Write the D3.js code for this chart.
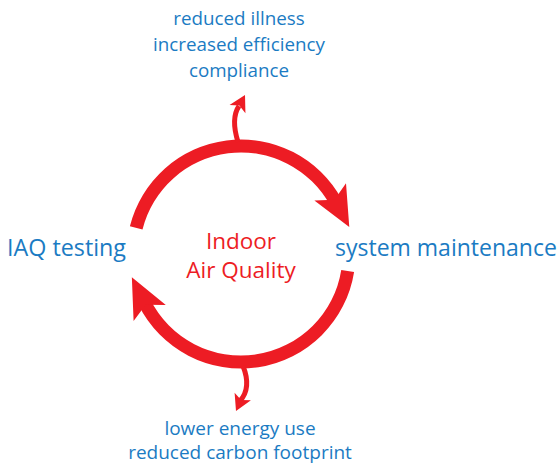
<!DOCTYPE html>
<html>
<head>
<meta charset="utf-8">
<script src="https://cdn.jsdelivr.net/npm/d3@7"></script>
<style>
  body { margin: 0; background: #fff; }
  text { font-family: "Open Sans", sans-serif; }
</style>
</head>
<body>
<div class="chart"></div>
<script>
const w = 560;
const h = 466;

// content
const centerLabel = ["Indoor", "Air Quality"];
const stages = ["IAQ testing", "system maintenance"];
const topBenefits = ["reduced illness", "increased efficiency", "compliance"];
const bottomBenefits = ["lower energy use", "reduced carbon footprint"];

const red = "#ed1c24";
const blue = "#1b7bc3";

const cx = 241, cy = 254, r = 108, band = 13;
const deg = Math.PI / 180;

const svg = d3.select(".chart")
    .append("svg")
    .attr("width", w)
    .attr("height", h)

// d3.arc angles: 0 = 12 o'clock, clockwise
var cycleArcs = [
    { start: -76 * deg, end: 61.5 * deg },
    { start: 99 * deg, end: 243.5 * deg }
]

var arc = d3.arc()
    .innerRadius(r - band / 2)
    .outerRadius(r + band / 2)

var g = svg.append("g")
    .attr("transform", `translate(${cx},${cy})`)

g.selectAll("path.cycle")
    .data(cycleArcs)
    .enter()
    .append("path")
    .attr("class", "cycle")
    .attr("d", (d) => arc({ startAngle: d.start, endAngle: d.end }))
    .attr("fill", red)

// arrowheads at the end of each arc, pointing along the tangent
function arrowHead(len, wid, notch) {
    return `M${len},0 L${-notch},${-wid / 2} L0,0 L${-notch},${wid / 2} Z`
}

g.selectAll("path.head")
    .data(cycleArcs)
    .enter()
    .append("path")
    .attr("class", "head")
    .attr("d", arrowHead(31, 36, 9))
    .attr("fill", red)
    .attr("transform", function (d) {
        var a = d.end - Math.PI / 2;
        var x = r * Math.cos(a), y = r * Math.sin(a);
        var rot = (a + Math.PI / 2) / deg;
        return `translate(${x},${y}) rotate(${rot}) translate(-3,0)`;
    })

// small branch arrows to the benefit lists
var branches = [
    { d: "M238,142 C233,126 233,115 239,106", tip: [245, 95], ang: -62 },
    { d: "M243,366 C249,381 248,392 240,401", tip: [236, 411], ang: 115 }
]

svg.selectAll("path.stem")
    .data(branches)
    .enter()
    .append("path")
    .attr("class", "stem")
    .attr("d", (d) => d.d)
    .attr("fill", "none")
    .attr("stroke", red)
    .attr("stroke-width", 5)

svg.selectAll("path.tip")
    .data(branches)
    .enter()
    .append("path")
    .attr("class", "tip")
    .attr("d", `M0,0 L-16,-9 L-12,0 L-16,9 Z`)
    .attr("fill", red)
    .attr("transform", (d) => `translate(${d.tip[0]},${d.tip[1]}) rotate(${d.ang})`)

// labels
svg.append("g")
    .selectAll("text")
    .data(centerLabel)
    .enter()
    .append("text")
    .attr("x", cx)
    .attr("y", (d, i) => 249 + i * 29)
    .attr("text-anchor", "middle")
    .attr("fill", red)
    .style("font-size", "22.5px")
    .text((d) => d)

svg.append("text")
    .attr("x", 7)
    .attr("y", 256)
    .attr("fill", blue)
    .style("font-size", "23.3px")
    .text(stages[0])

svg.append("text")
    .attr("x", 335)
    .attr("y", 256)
    .attr("fill", blue)
    .style("font-size", "23px")
    .text(stages[1])

svg.append("g")
    .selectAll("text")
    .data(topBenefits)
    .enter()
    .append("text")
    .attr("x", 239)
    .attr("y", (d, i) => 25 + i * 26)
    .attr("text-anchor", "middle")
    .attr("fill", blue)
    .style("font-size", "18.8px")
    .text((d) => d)

svg.append("g")
    .selectAll("text")
    .data(bottomBenefits)
    .enter()
    .append("text")
    .attr("x", 240)
    .attr("y", (d, i) => 435 + i * 24)
    .attr("text-anchor", "middle")
    .attr("fill", blue)
    .style("font-size", "19px")
    .text((d) => d)
</script>
</body>
</html>
